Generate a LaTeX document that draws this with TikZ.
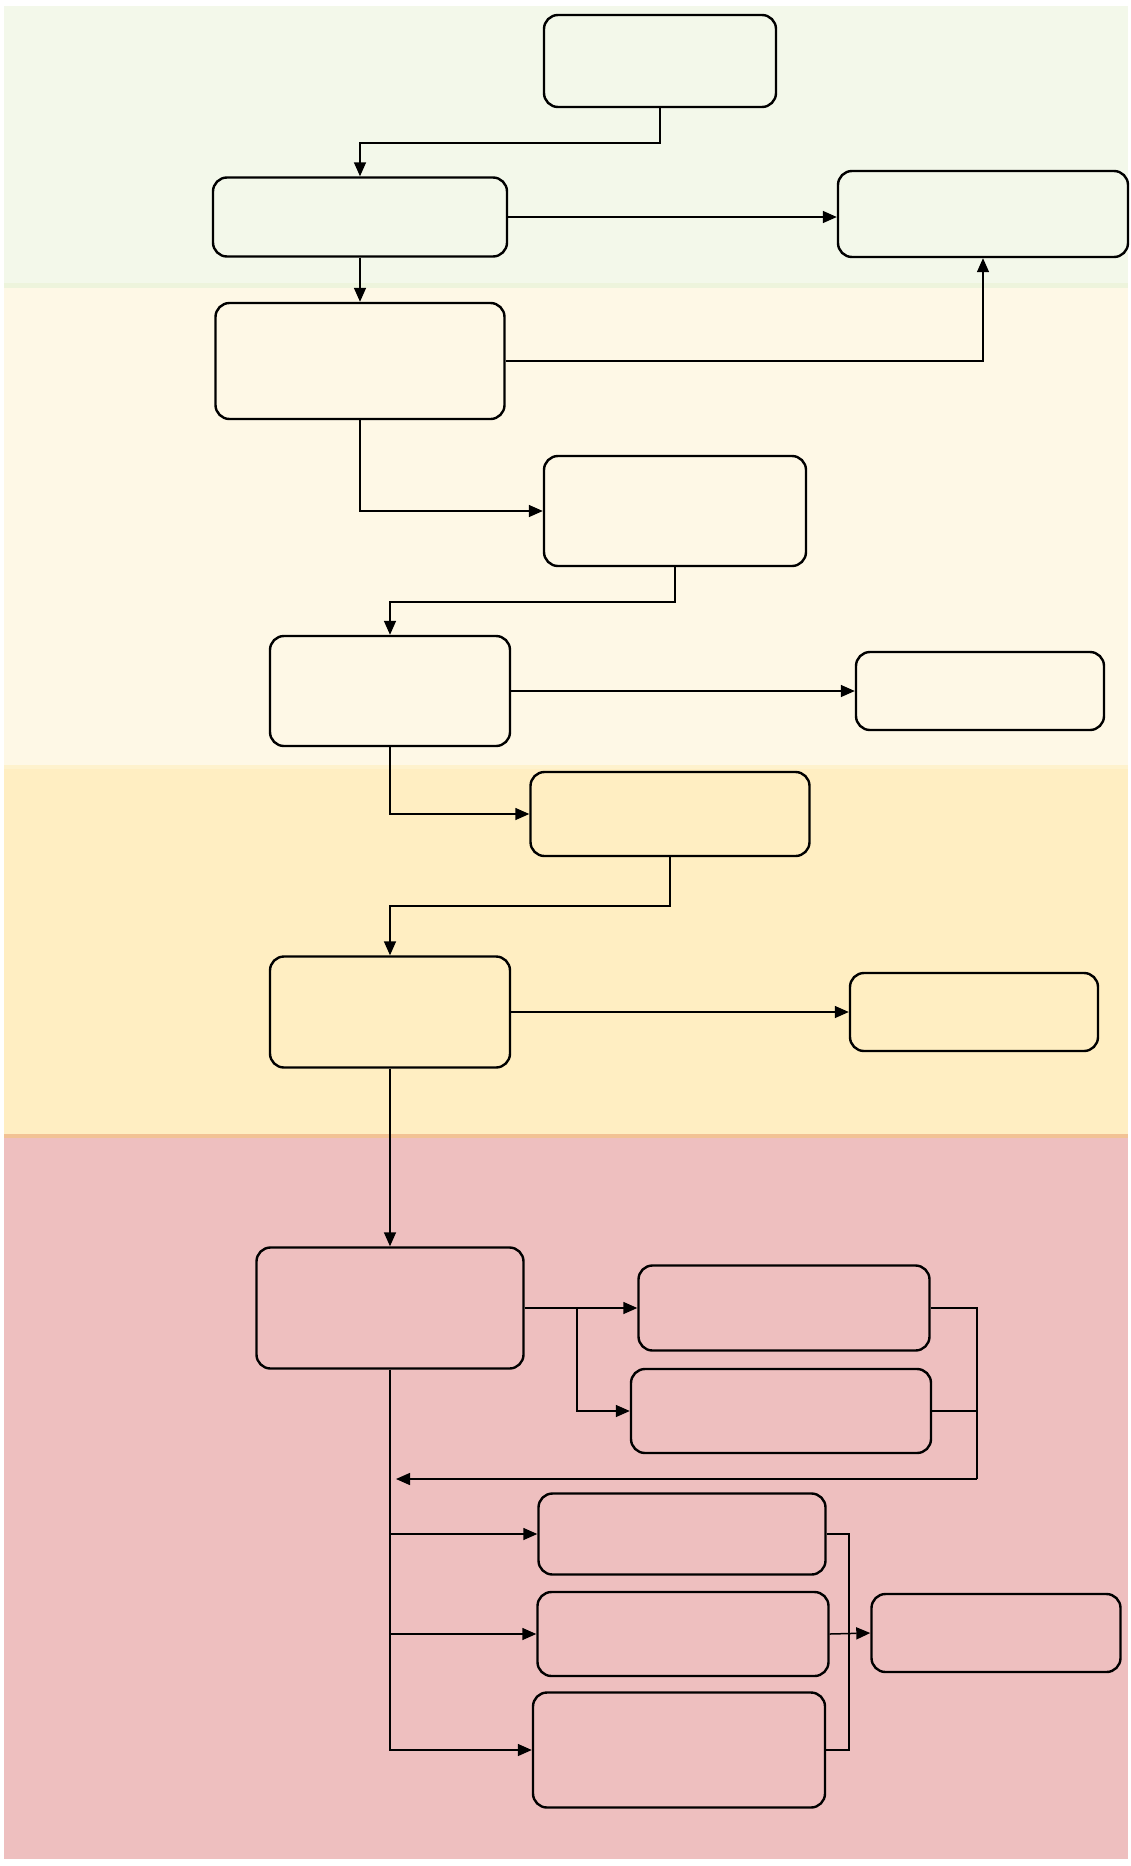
\documentclass[tikz,border=0pt]{standalone}
\usetikzlibrary{arrows.meta}
\definecolor{bandgreen}{RGB}{243,248,234}
\definecolor{edgegreen}{RGB}{237,244,220}
\definecolor{bandcream}{RGB}{254,248,230}
\definecolor{edgecream}{RGB}{254,242,205}
\definecolor{bandyellow}{RGB}{255,238,194}
\definecolor{edgeorange}{RGB}{242,194,148}
\definecolor{bandpink}{RGB}{238,191,191}
\tikzset{
	box/.style={draw, rounded corners=14pt, line width=2.4pt, inner sep=0pt},
	link/.style={line width=1.5pt, -{Triangle[length=14pt,width=12pt]}},
	wire/.style={line width=1.5pt}
}
\begin{document}
\begin{tikzpicture}[x=1pt, y=-1pt]
		\useasboundingbox (0, 0) rectangle (1130, 1866);
		% bands
		\fill[bandgreen] (4, 6) rectangle (1128, 285);
		\fill[edgegreen] (4, 283) rectangle (1128, 288);
		\fill[bandcream] (4, 288) rectangle (1128, 765);
		\fill[edgecream] (4, 765) rectangle (1128, 769);
		\fill[bandyellow] (4, 769) rectangle (1128, 1134);
		\fill[edgeorange] (4, 1134) rectangle (1128, 1138);
		\fill[bandpink] (4, 1138) rectangle (1128, 1859);
		% boxes
		\node[box, minimum width=232pt, minimum height=92pt] (top) at (660, 61) {};
		\node[box, minimum width=294pt, minimum height=79pt] (b2) at (360, 217) {};
		\node[box, minimum width=290pt, minimum height=86pt] (b3) at (983, 214) {};
		\node[box, minimum width=289pt, minimum height=116pt] (b4) at (360, 361) {};
		\node[box, minimum width=262pt, minimum height=110pt] (b5) at (675, 511) {};
		\node[box, minimum width=240pt, minimum height=110pt] (b6) at (390, 691) {};
		\node[box, minimum width=248pt, minimum height=78pt] (b7) at (980, 691) {};
		\node[box, minimum width=279pt, minimum height=84pt] (b8) at (670, 814) {};
		\node[box, minimum width=240pt, minimum height=111pt] (b9) at (390, 1012) {};
		\node[box, minimum width=248pt, minimum height=78pt] (b10) at (974, 1012) {};
		\node[box, minimum width=267pt, minimum height=121pt] (b11) at (390, 1308) {};
		\node[box, minimum width=291pt, minimum height=85pt] (b12) at (784, 1308) {};
		\node[box, minimum width=300pt, minimum height=84pt] (b13) at (781, 1411) {};
		\node[box, minimum width=287pt, minimum height=81pt] (b14) at (682, 1534) {};
		\node[box, minimum width=291pt, minimum height=84pt] (b15) at (683, 1634) {};
		\node[box, minimum width=292pt, minimum height=115pt] (b16) at (679, 1750) {};
		\node[box, minimum width=249pt, minimum height=78pt] (b17) at (996, 1633) {};
		\coordinate (split) at (577, 1308);
		\coordinate (joinA) at (977, 1479);
		\coordinate (back) at (396, 1479);
		\coordinate (joinB) at (849, 1534);
		% connectors
		\draw[link] (top.south) |- (b2.north |- 0, 143) -- (b2.north);
		\draw[link] (b2.east) -- (b2.east -| b3.west);
		\draw[link] (b2.south) -- (b4.north);
		\draw[link] (b4.east) -| (b3.south);
		\draw[link] (b4.south) |- (b5.west);
		\draw[link] (b5.south) |- (b6.north |- 0, 602) -- (b6.north);
		\draw[link] (b6.east) -- (b7.west);
		\draw[link] (b6.south) |- (b8.west);
		\draw[link] (b8.south) |- (b9.north |- 0, 906) -- (b9.north);
		\draw[link] (b9.east) -- (b10.west);
		\draw[link] (b9.south) -- (b11.north);
		\draw[wire] (b11.east) -- (split);
		\draw[link] (split) -- (b12.west);
		\draw[link] (split) |- (b13.west);
		\draw[wire] (b12.east) -| (joinA);
		\draw[wire] (b13.east) -- (b13.east -| joinA);
		\draw[link] (joinA) -- (back);
		\draw[link] (b11.south) |- (b16.west);
		\foreach \b in {b14, b15}{
			\draw[link] (b11.south |- \b.west) -- (\b.west);
		}
		\draw[wire] (b14.east) -- (joinB) |- (b16.east);
		\draw[link] (b15.east) -- (b17.west);
	\end{tikzpicture}
\end{document}
